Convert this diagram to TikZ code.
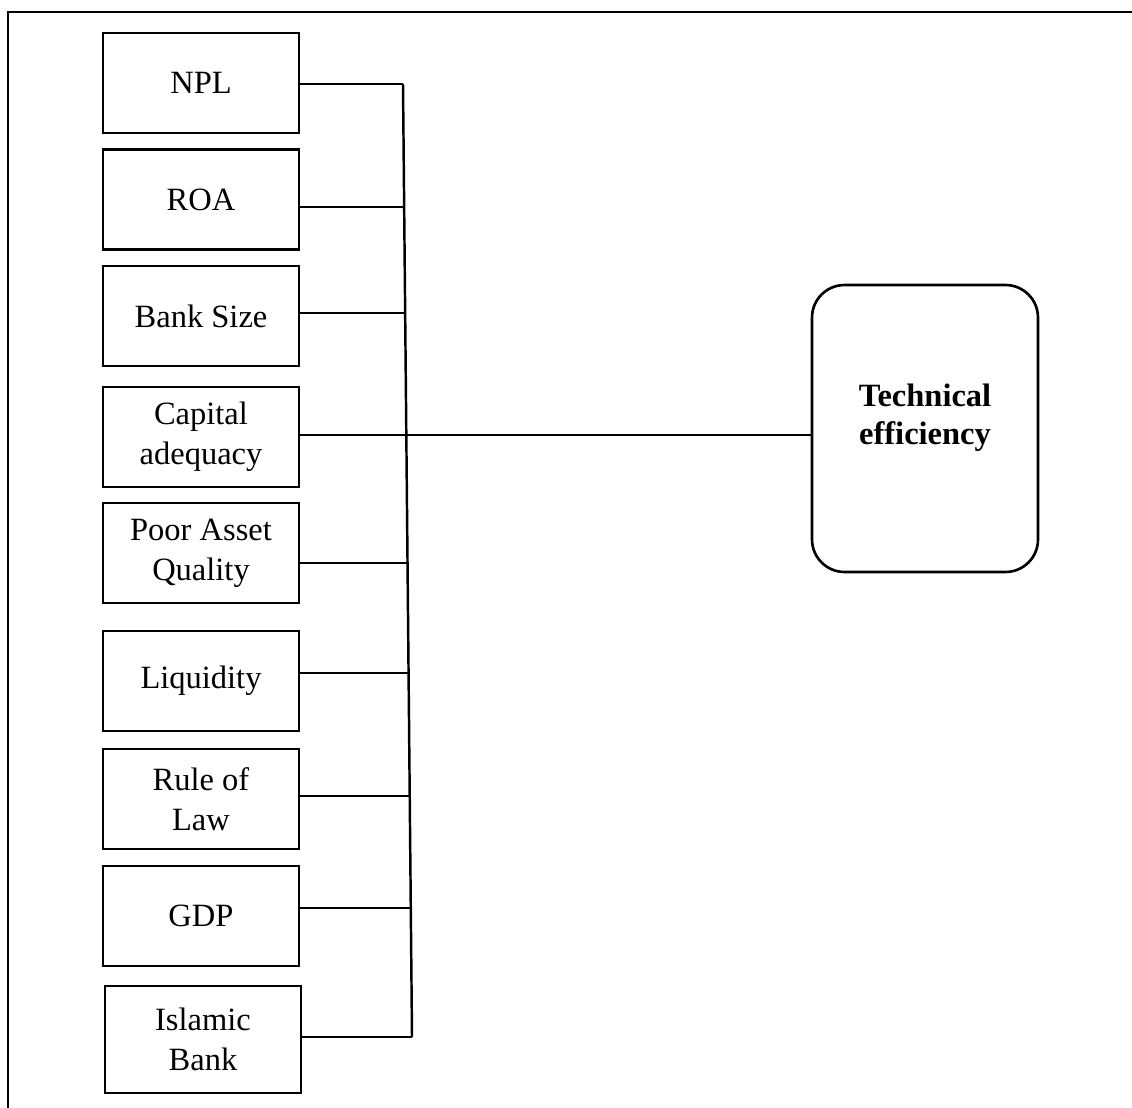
\documentclass[tikz,border=0pt]{standalone}
\usepackage{fontspec}
\setmainfont{Liberation Serif}
\begin{document}
\begin{tikzpicture}[
		x=0.02cm, y=-0.02cm,
		cornice/.style={line width=1.6pt, line cap=rect, black},
		linea/.style={line width=1.4pt, black},
		fattore/.style={draw=black, line width=1.5pt, minimum width=3.92cm,
			minimum height=2cm, inner sep=0pt, align=center,
			font=\fontsize{18.5}{22.7}\selectfont},
		esito/.style={draw=black, line width=1.5pt, rounded corners=0.65cm,
			minimum width=4.52cm, minimum height=5.74cm, inner sep=0pt},
		titolo/.style={align=center, inner sep=0pt,
			font=\fontsize{18.5}{21.5}\selectfont\bfseries},
		]
		\useasboundingbox (0,0) rectangle (1132,1108);
		
		%% cornice (solo lati alto e sinistro)
		\draw[cornice] (8,1108) -- (8,12) -- (1132,12);
		
		%% =========================================================
		%% fattori a sinistra
		%% =========================================================
		\foreach \n/\xx/\yy/\hh/\t in {
			npl/201/83/2/NPL,
			roa/201/199.5/2/ROA,
			size/201/316/2/Bank Size,
			cap/201/437/2/{Capital\\adequacy},
			paq/201/553/2/{Poor Asset\\Quality},
			liq/201/681/2/Liquidity,
			rol/201/799/2/{Rule of\\Law},
			gdp/201/916/2/GDP,
			isl/203/1039.5/2.14/{Islamic\\Bank}}
		\node[fattore, minimum height=\hh cm] (\n) at (\xx,\yy) {\t};
		
		%% esito a destra
		\node[esito] (te) at (925,428.5) {};
		\node[titolo] (teTesto) at (925,418) {Technical\\efficiency};
		
		%% =========================================================
		%% collegamenti alla linea verticale
		%% =========================================================
		\foreach \n/\xx/\yy in {npl/403/84, roa/404.2/207, size/405.2/313,
			cap/406.3/435, paq/407.5/563, liq/408.6/673, rol/409.7/796,
			gdp/410.8/908, isl/412/1037}{
			\coordinate (j\n) at (\xx,\yy);
			\draw[linea] (j\n -| \n.east) -- (j\n);}
		\draw[linea] (jnpl) -- (jisl);
		\draw[linea] (jcap) -- (jcap -| te.west);
		
\end{tikzpicture}
\end{document}
